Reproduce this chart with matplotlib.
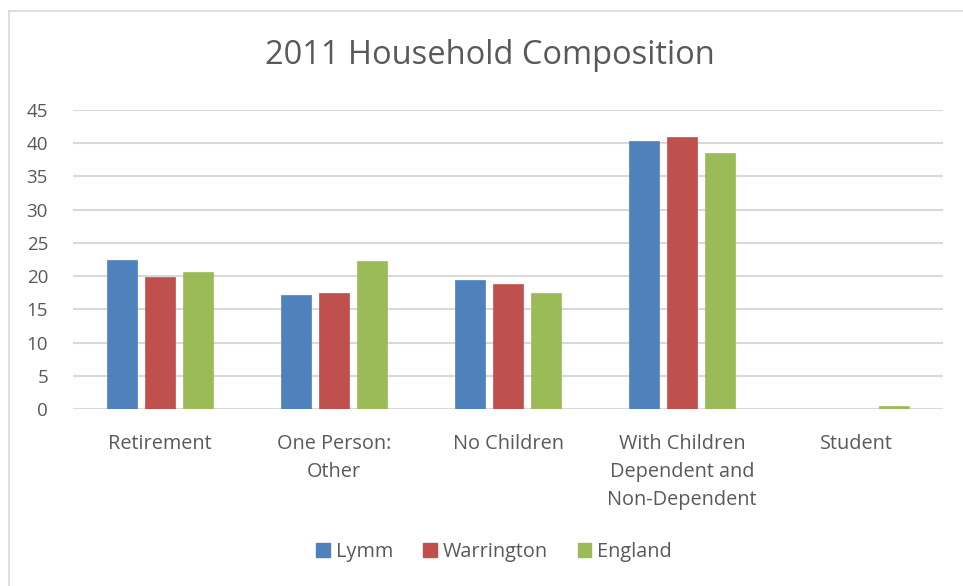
import matplotlib
matplotlib.use("Agg")
import matplotlib.pyplot as plt
import numpy as np
from matplotlib.lines import Line2D
from matplotlib.patches import Patch

categories = ["Retirement", "One Person:\nOther", "No Children",
              "With Children\nDependent and\nNon-Dependent", "Student"]
series_names = ["Lymm", "Warrington", "England"]
lymm = [22.5, 17.1, 19.4, 40.4, 0.0]
warrington = [19.9, 17.4, 18.8, 40.9, 0.0]
england = [20.6, 22.2, 17.5, 38.5, 0.45]
colors = ["#4F81BD", "#C0504D", "#9BBB59"]
yticks = [0, 5, 10, 15, 20, 25, 30, 35, 40, 45]

plt.rcParams['font.family'] = ['Open Sans', 'DejaVu Sans']
text_color = "#595959"

fig = plt.figure(figsize=(9.63, 5.86), dpi=100)
ax = fig.add_axes([73/963, 1 - 409/586, (943 - 73)/963, (409 - 110)/586])

x = np.arange(len(categories))
width = 0.172
offsets = [-0.22, 0.0, 0.22]
for vals, off, c, name in zip([lymm, warrington, england], offsets, colors, series_names):
    ax.bar(x + off, vals, width, color=c, label=name, zorder=3,
           edgecolor=c, linewidth=0.5)

ax.set_xlim(-0.5, len(categories) - 0.5)
ax.set_ylim(0, 45)
ax.set_yticks(yticks)
ax.set_yticklabels([str(t) for t in yticks], fontsize=13.5, color=text_color)
ax.set_xticks(x)
ax.set_xticklabels(categories, fontsize=14.3, color=text_color, linespacing=1.52)
ax.tick_params(axis='both', length=0)
ax.tick_params(axis='y', pad=18)
ax.tick_params(axis='x', pad=18)
for s in ax.spines.values():
    s.set_visible(False)
ax.yaxis.grid(True, color="#D9D9D9", linewidth=1.5, zorder=0)
ax.set_axisbelow(True)

fig.text(490/963, 1 - 56/586, "2011 Household Composition", ha='center', va='center',
         fontsize=23.5, color=text_color)

handles = [Patch(facecolor=c, edgecolor=c) for c in colors]
fig.legend(handles, series_names, loc='center', bbox_to_anchor=(494/963, 1 - 552/586),
           ncol=3, frameon=False, fontsize=14.3, labelcolor=text_color,
           handlelength=0.7, handleheight=0.7, handletextpad=0.3, columnspacing=1.5)

# chart border (top and left visible)
fig.add_artist(Line2D([9/963, 9/963], [0, 1 - 11/586], transform=fig.transFigure,
                      color="#D9D9D9", linewidth=1.2))
fig.add_artist(Line2D([9/963, 1], [1 - 11/586, 1 - 11/586], transform=fig.transFigure,
                      color="#D9D9D9", linewidth=1.2))

fig.savefig("out.png", dpi=100)
